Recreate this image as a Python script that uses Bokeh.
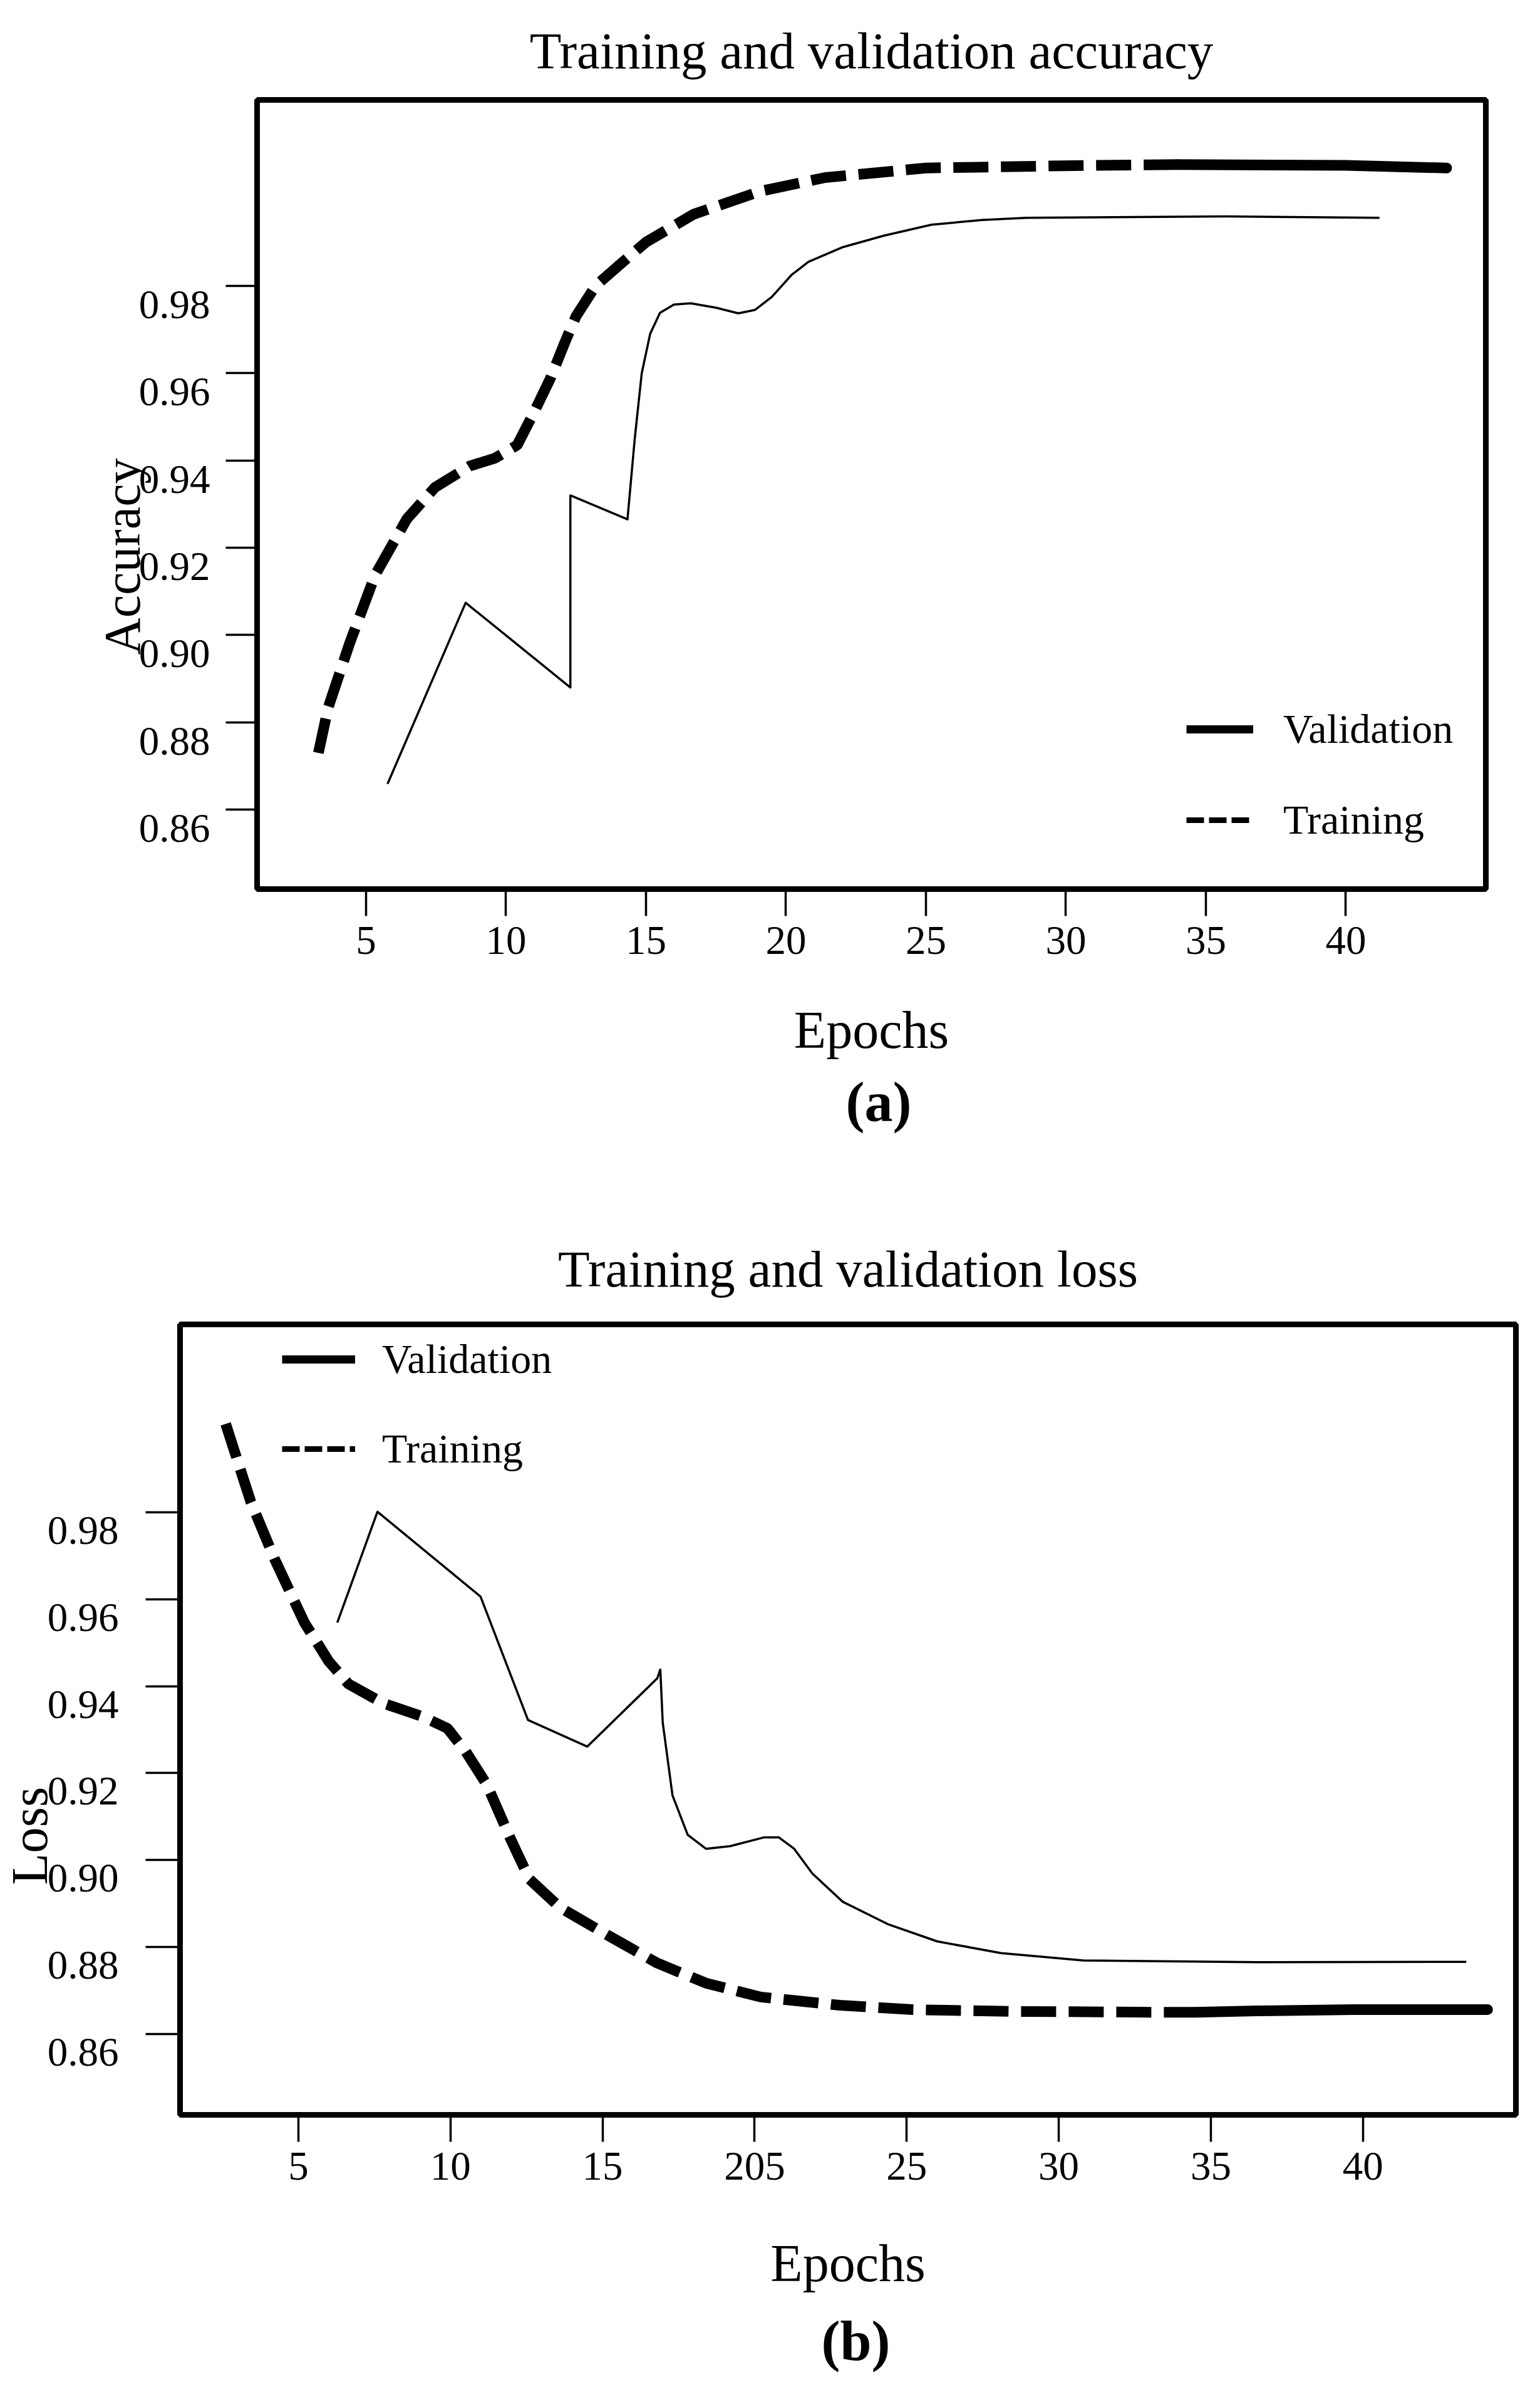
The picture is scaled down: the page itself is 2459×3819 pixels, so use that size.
from bokeh.plotting import figure
from bokeh.models import Range1d, FixedTicker, Legend, LegendItem, Title
from bokeh.layouts import column, row
from bokeh.embed import file_html
from bokeh.resources import INLINE

# ---------------- data ----------------
acc_train_epoch = [3.3, 3.65, 4.42, 5.33, 6.46, 7.46, 8.7, 9.6, 10.4, 11.0, 11.6, 12.1,
                   12.5, 13.2, 14.0, 15.0, 16.7, 19.1, 21.4, 25.0, 30.9, 34.0, 40.0, 43.6]
acc_train = [0.873, 0.8834, 0.8982, 0.9138, 0.9266, 0.9338, 0.9387, 0.9405, 0.9435, 0.951,
             0.959, 0.967, 0.973, 0.980, 0.9845, 0.990, 0.9964, 1.0017, 1.0048, 1.007,
             1.0076, 1.0078, 1.0076, 1.007]

acc_val_epoch = [5.77, 8.56, 12.3, 12.3, 14.34, 14.6, 14.85, 15.15, 15.5, 16.0, 16.6, 17.5,
                 18.3, 18.9, 19.5, 20.2, 20.8, 22.0, 23.5, 25.2, 27.0, 28.6, 35.7, 41.2]
acc_val = [0.8659, 0.9074, 0.888, 0.932, 0.9265, 0.945, 0.960, 0.969, 0.9738, 0.9757,
           0.976, 0.975, 0.9737, 0.9745, 0.9775, 0.9825, 0.9855, 0.9888, 0.9915, 0.994,
           0.9951, 0.9956, 0.9959, 0.9956]

loss_train_epoch = [2.61, 3.44, 4.24, 5.2, 6.0, 6.65, 7.78, 9.08, 9.9, 10.5, 11.2, 12.0,
                    12.6, 13.6, 15.2, 16.8, 18.4, 20.2, 22.8, 25.2, 28.4, 33.2, 34.5,
                    36.5, 39.7, 44.1]
loss_train = [1.0003, 0.9823, 0.9689, 0.9546, 0.9457, 0.9405, 0.9361, 0.933, 0.9303, 0.925,
              0.9173, 0.9045, 0.8956, 0.8891, 0.8826, 0.8763, 0.8717, 0.8685, 0.8666,
              0.8656, 0.8652, 0.865, 0.865, 0.8653, 0.8656, 0.8656]

loss_val_epoch = [6.28, 7.6, 10.99, 12.55, 14.5, 16.8, 16.9, 16.98, 17.3, 17.8, 18.4, 19.2,
                  20.3, 20.8, 21.3, 21.9, 22.9, 24.4, 26.0, 28.1, 30.8, 36.5, 43.4]
loss_val = [0.9546, 0.9801, 0.9606, 0.9322, 0.9261, 0.9418, 0.9438, 0.9316, 0.9149, 0.9058,
            0.9026, 0.9032, 0.9052, 0.9052, 0.9026, 0.8969, 0.8904, 0.8852, 0.8813, 0.8786,
            0.8769, 0.8765, 0.8766]

y_tick_values = [0.86, 0.88, 0.90, 0.92, 0.94, 0.96, 0.98]
y_tick_labels = ["0.86", "0.88", "0.90", "0.92", "0.94", "0.96", "0.98"]
x_tick_values = [5, 10, 15, 20, 25, 30, 35, 40]
acc_x_tick_labels = ["5", "10", "15", "20", "25", "30", "35", "40"]
loss_x_tick_labels = ["5", "10", "15", "205", "25", "30", "35", "40"]

series_names = ["Validation", "Training"]

FONT = "Liberation Serif"


def make_chart(title, ylabel, tag, tr_x, tr_y, va_x, va_y, xlabels, *,
               frame_w, frame_h, left, top, right, bottom, x_rng, y_rng, title_standoff,
               ytick_out, ylab_standoff, label_drop, ylab_offset, ylab_standoff2,
               ylab_size, xlab_standoff, tag_offset, tag_standoff, legend_loc,
               legend_gw, legend_standoff, legend_spacing, tail_start):
    p = figure(frame_width=frame_w, frame_height=frame_h,
               min_border_left=left, min_border_top=top,
               min_border_right=right, min_border_bottom=bottom,
               x_range=Range1d(*x_rng), y_range=Range1d(*y_rng),
               output_backend="svg", toolbar_location=None, title=title)
    p.background_fill_color = "white"
    p.border_fill_color = "white"
    p.outline_line_color = "black"
    p.outline_line_width = 9
    p.xgrid.visible = False
    p.ygrid.visible = False

    p.title.text_font = FONT
    p.title.text_font_size = "83px"
    p.title.text_font_style = "normal"
    p.title.text_color = "black"
    p.title.align = "center"
    p.title.standoff = title_standoff

    # y axis: tick marks at the values, labels sitting slightly below them
    px_per_unit = frame_h / (y_rng[1] - y_rng[0])
    shift = label_drop / px_per_unit
    label_pos = [round(v - shift, 6) for v in y_tick_values]
    yax = p.yaxis[0]
    yax.ticker = FixedTicker(ticks=label_pos, minor_ticks=y_tick_values)
    yax.major_label_overrides = {lp: lab for lp, lab in zip(label_pos, y_tick_labels)}
    yax.major_tick_out = 0
    yax.major_tick_in = 0
    yax.major_tick_line_color = None
    yax.minor_tick_out = ytick_out
    yax.minor_tick_in = 0
    yax.minor_tick_line_width = 3.5
    yax.minor_tick_line_color = "black"
    yax.axis_line_color = None
    yax.major_label_standoff = ylab_standoff
    yax.major_label_text_font = FONT
    yax.major_label_text_font_size = "65px"
    yax.major_label_text_color = "black"

    xax = p.xaxis[0]
    xax.ticker = FixedTicker(ticks=x_tick_values, minor_ticks=[])
    xax.major_label_overrides = {v: lab for v, lab in zip(x_tick_values, xlabels)}
    xax.major_tick_out = 43
    xax.major_tick_in = 0
    xax.major_tick_line_width = 3.5
    xax.major_tick_line_color = "black"
    xax.axis_line_color = None
    xax.major_label_standoff = 17
    xax.major_label_text_font = FONT
    xax.major_label_text_font_size = "65px"
    xax.major_label_text_color = "black"
    xax.axis_label = "Epochs"
    xax.axis_label_text_font = FONT
    xax.axis_label_text_font_size = "84px"
    xax.axis_label_text_font_style = "normal"
    xax.axis_label_text_color = "black"
    xax.axis_label_standoff = xlab_standoff

    # series
    split = tr_x.index(tail_start)
    p.line(tr_x[:split + 1], tr_y[:split + 1], line_width=17, line_color="black",
           line_dash="56 20", line_cap="butt")
    p.line(tr_x[split:], tr_y[split:], line_width=17, line_color="black",
           line_cap="round", line_join="round")
    p.line(va_x, va_y, line_width=3.5, line_color="black", line_join="round")

    # legend samples as drawn in the figure (hidden proxies)
    pv = p.line(va_x, va_y, line_width=13, line_color="black", visible=False)
    pt = p.line(tr_x, tr_y, line_width=9, line_color="black", line_dash="28 8",
                visible=False)
    legend = Legend(items=[LegendItem(label=series_names[0], renderers=[pv]),
                           LegendItem(label=series_names[1], renderers=[pt])],
                    location=legend_loc, orientation="vertical",
                    glyph_width=legend_gw, glyph_height=76, label_height=76,
                    label_standoff=legend_standoff, spacing=legend_spacing,
                    padding=0, margin=0, border_line_color=None,
                    background_fill_alpha=0, inactive_fill_alpha=0,
                    label_text_font=FONT, label_text_font_size="66px",
                    label_text_color="black")
    p.add_layout(legend, "center")

    p.add_layout(Title(text=ylabel, align="left", offset=ylab_offset,
                       standoff=ylab_standoff2, text_font=FONT,
                       text_font_size=ylab_size, text_font_style="normal",
                       text_color="black"), "left")
    p.add_layout(Title(text=tag, align="left", offset=tag_offset,
                       standoff=tag_standoff, text_font=FONT,
                       text_font_size="90px", text_font_style="bold",
                       text_color="black"), "below")
    return p


pa = make_chart("Training and validation accuracy", "Accuracy", "(a)",
                acc_train_epoch, acc_train, acc_val_epoch, acc_val, acc_x_tick_labels,
                frame_w=1962, frame_h=1260, left=410, top=149, right=71, bottom=483,
                x_rng=(1.11, 45.0), y_rng=(0.8418, 1.0226), title_standoff=65,
                ytick_out=50, ylab_standoff=25, label_drop=30,
                ylab_offset=374, ylab_standoff2=-44, ylab_size="82px",
                xlab_standoff=72, tag_offset=940, tag_standoff=29,
                legend_loc=(1484, 72), legend_gw=107,
                legend_standoff=48, legend_spacing=69, tail_start=34.0)

pb = make_chart("Training and validation loss", "Loss", "(b)",
                loss_train_epoch, loss_train, loss_val_epoch, loss_val, loss_x_tick_labels,
                frame_w=2133, frame_h=1262, left=287, top=212, right=23, bottom=437,
                x_rng=(1.11, 45.03), y_rng=(0.8414, 1.0232), title_standoff=86,
                ytick_out=55, ylab_standoff=43, label_drop=29,
                ylab_offset=367, ylab_standoff2=-40, ylab_size="83px",
                xlab_standoff=84, tag_offset=1024, tag_standoff=46,
                legend_loc=(163, 1025), legend_gw=117,
                legend_standoff=43, legend_spacing=67, tail_start=34.5)

layout = column(row(pa), row(pb), spacing=0)
open("out.html", "w").write(file_html(layout, INLINE))
